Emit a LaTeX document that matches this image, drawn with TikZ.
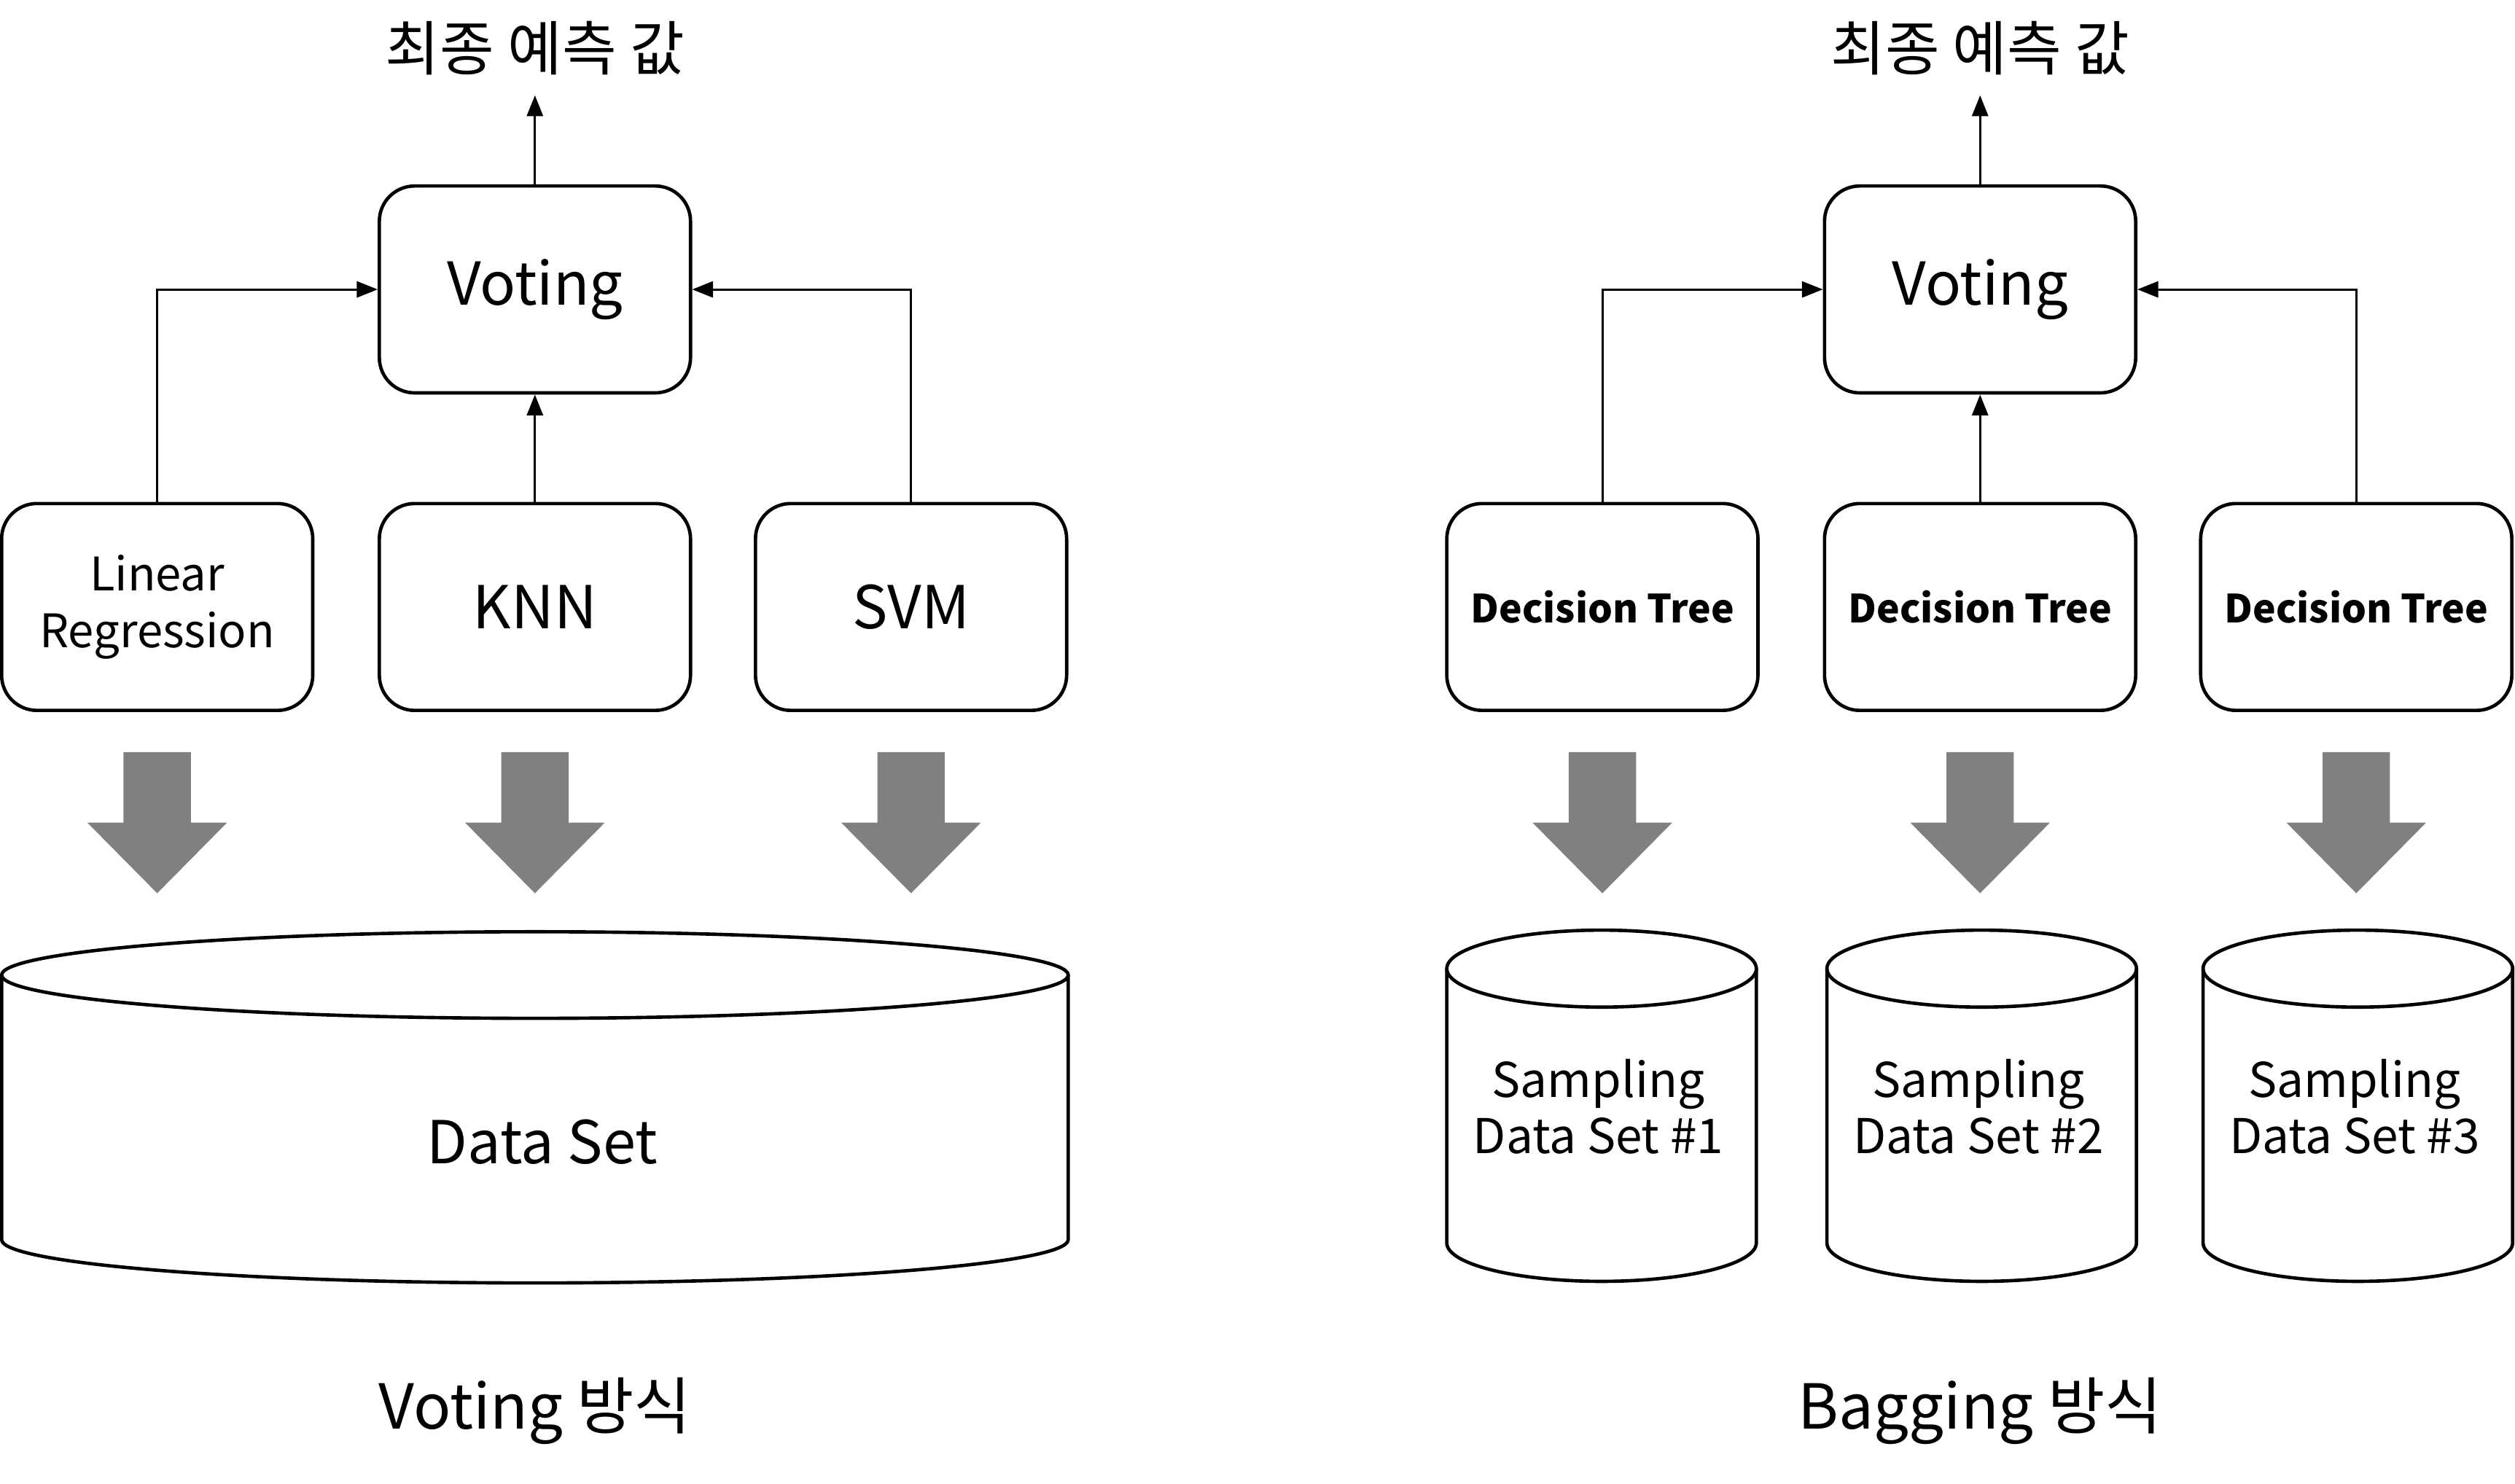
\documentclass[tikz,border=0pt]{standalone}
\usepackage{fontspec}
\setmainfont{Noto Sans CJK KR}
\usetikzlibrary{arrows.meta}
\usetikzlibrary{positioning}
\definecolor{arrowgray}{rgb}{0.5, 0.5, 0.5}

\begin{document}
\begin{tikzpicture}[
        model/.style={draw, line width=0.6pt, rounded corners=2.2mm, minimum width=19.4mm, minimum height=12.9mm, align=center, inner sep=1pt},
        link/.style={line width=0.4pt, -{Triangle[length=1.3mm,width=1mm]}},
        dbline/.style={line width=0.6pt},
        bigfont/.style={font=\fontsize{10.5}{12}\selectfont},
        labelfont/.style={font=\fontsize{11}{13}\selectfont},
        titlefont/.style={font=\fontsize{10.5}{12}\selectfont},
        midfont/.style={font=\fontsize{8.5}{10}\selectfont, align=center},
        lrfont/.style={font=\fontsize{8.2}{10}\selectfont, align=center},
        dtfont/.style={font=\fontsize{6.9}{8}\selectfont\bfseries},
    ]
        \fill[white] (0,0) rectangle (15.68,9.25);
        \useasboundingbox (0,0) rectangle (15.68,9.25);
        % Voting side
        \node (vote1) [model, bigfont] at (3.335,7.445) {Voting};
        \node (res1) [titlefont, inner sep=1.2mm] at (3.335,8.95) {최종 예측 값};
        \node (lr) [model, lrfont] at (0.98,5.465) {Linear\\Regression};
        \node (knn) [model, bigfont] at (3.335,5.465) {KNN};
        \node (svm) [model, bigfont] at (5.68,5.465) {SVM};
        % Bagging side
        \node (vote2) [model, bigfont] at (12.345,7.445) {Voting};
        \node (res2) [titlefont, inner sep=1.2mm] at (12.345,8.95) {최종 예측 값};
        \node (dt1) [model, dtfont] at (9.99,5.465) {Decision Tree};
        \node (dt2) [model, dtfont] at (12.345,5.465) {Decision Tree};
        \node (dt3) [model, dtfont] at (14.69,5.465) {Decision Tree};
        % Draw lines to voting
        \draw[link] (vote1) -- (res1);
        \draw[link] (lr.north) |- (vote1.west);
        \draw[link] (knn) -- (vote1);
        \draw[link] (svm.north) |- (vote1.east);
        \draw[link] (vote2) -- (res2);
        \draw[link] (dt1.north) |- (vote2.west);
        \draw[link] (dt2) -- (vote2);
        \draw[link] (dt3.north) |- (vote2.east);
        % Fat arrows
        \foreach \x in {0.98,3.335,5.68,9.99,12.345,14.69}
            \fill[arrowgray] (\x-0.21,4.56) -- (\x+0.21,4.56) -- (\x+0.21,4.12) -- (\x+0.435,4.12)
                -- (\x,3.68) -- (\x-0.435,4.12) -- (\x-0.21,4.12) -- cycle;
        % Data set
        \draw[dbline, fill=white] (0.01,3.17) -- (0.01,1.52) arc[start angle=180, end angle=360, x radius=3.325, y radius=0.27] -- (6.66,3.17);
        \draw[dbline] (3.335,3.17) ellipse [x radius=3.325, y radius=0.27];
        \node (data) [bigfont] at (3.38,2.13) {Data Set};
        % Sampling data sets
        \foreach \x/\n in {9.985/1,12.355/2,14.70/3} {
            \draw[dbline, fill=white] (\x-0.965,3.21) -- (\x-0.965,1.50) arc[start angle=180, end angle=360, x radius=0.965, y radius=0.24] -- (\x+0.965,3.21);
            \draw[dbline] (\x,3.21) ellipse [x radius=0.965, y radius=0.24];
            \node (samp\n) [midfont] at (\x-0.02,2.35) {Sampling\\Data Set \#\n};
        }
        % Add labels
        \node (lab1) [labelfont] at (3.335,0.45) {Voting 방식};
        \node (lab2) [labelfont] at (12.345,0.45) {Bagging 방식};
    \end{tikzpicture}
\end{document}
